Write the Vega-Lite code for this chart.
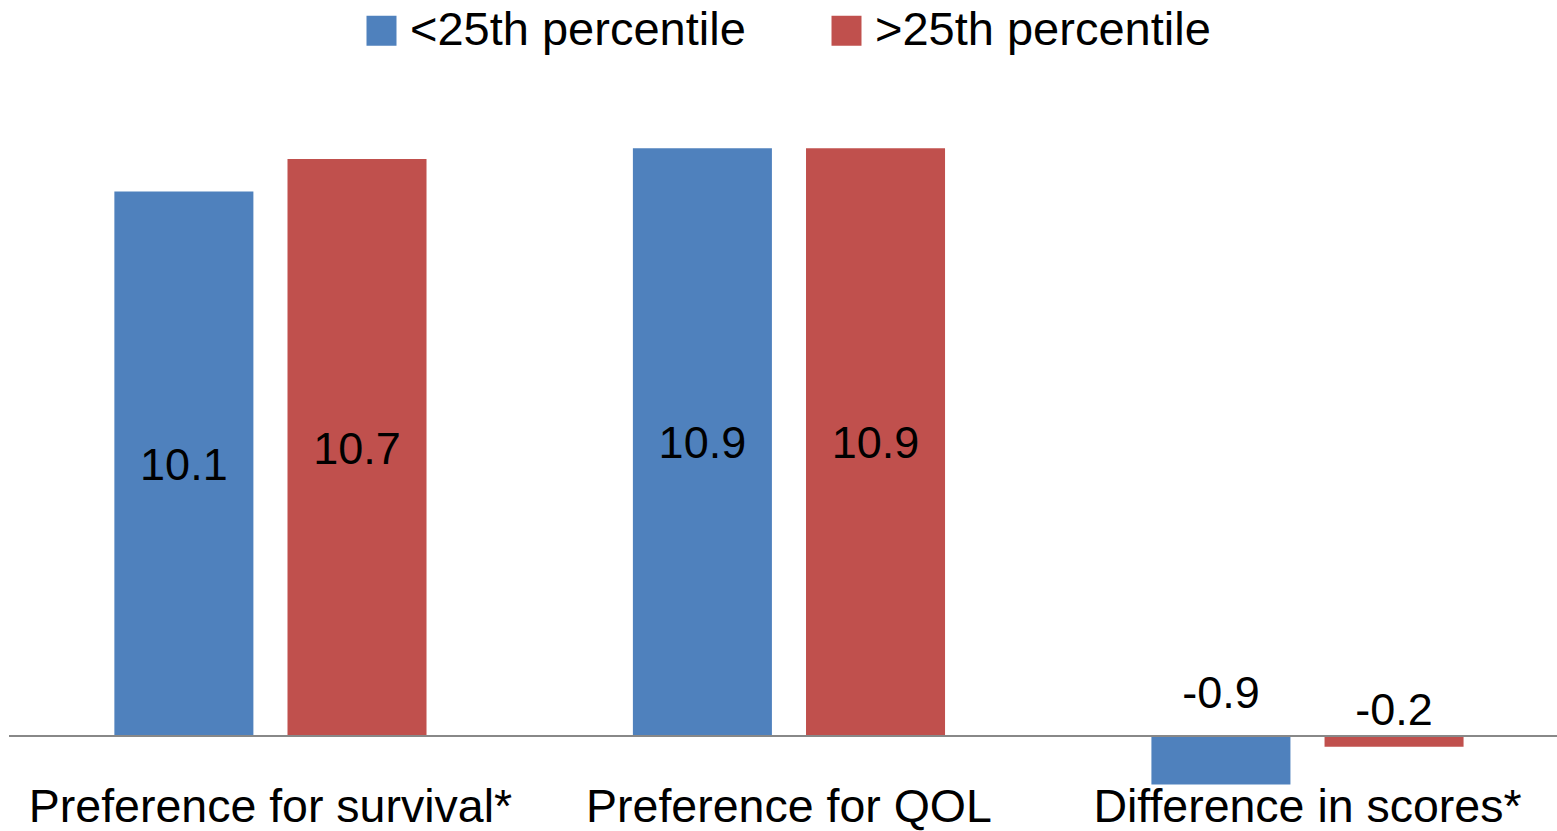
{
  "$schema": "https://vega.github.io/schema/vega-lite/v6.json",
  "width": 1548,
  "height": 701,
  "autosize": "none",
  "padding": {"left": 9, "top": 89, "right": 0, "bottom": 41},
  "background": "white",
  "config": {
    "view": {"stroke": null},
    "font": "Liberation Sans"
  },
  "data": {
    "values": [
      {"category": "Preference for survival*", "group": "<25th percentile", "value": 10.1},
      {"category": "Preference for survival*", "group": ">25th percentile", "value": 10.7},
      {"category": "Preference for QOL", "group": "<25th percentile", "value": 10.9},
      {"category": "Preference for QOL", "group": ">25th percentile", "value": 10.9},
      {"category": "Difference in scores*", "group": "<25th percentile", "value": -0.9},
      {"category": "Difference in scores*", "group": ">25th percentile", "value": -0.2}
    ]
  },
  "transform": [{"calculate": "datum.value / 2", "as": "mid"}],
  "encoding": {
    "x": {
      "field": "category",
      "type": "nominal",
      "sort": null,
      "scale": {"paddingInner": 0.398, "paddingOuter": 0.1917, "align": 0.53},
      "axis": {
        "title": null,
        "domain": false,
        "ticks": false,
        "labelAngle": 0,
        "labelFontSize": 46.5,
        "labelColor": "black",
        "labelBaseline": "alphabetic",
        "labelPadding": 31,
        "labelLimit": 600
      }
    },
    "xOffset": {
      "field": "group",
      "type": "nominal",
      "sort": ["<25th percentile", ">25th percentile"],
      "scale": {"paddingInner": 0.197, "paddingOuter": 0}
    }
  },
  "layer": [
    {
      "mark": {"type": "bar"},
      "encoding": {
        "y": {
          "field": "value",
          "type": "quantitative",
          "scale": {"domain": [-1, 12], "nice": false, "zero": true},
          "axis": null
        },
        "color": {
          "field": "group",
          "type": "nominal",
          "sort": ["<25th percentile", ">25th percentile"],
          "scale": {"domain": ["<25th percentile", ">25th percentile"], "range": ["#4F81BD", "#C0504D"]},
          "legend": {
            "title": null,
            "orient": "none",
            "direction": "horizontal",
            "legendX": 349,
            "legendY": -82,
            "symbolType": "square",
            "symbolSize": 900,
            "symbolStrokeWidth": 0,
            "symbolOpacity": 1,
            "labelFontSize": 47,
            "labelColor": "black",
            "labelOffset": 5,
            "labelLimit": 600,
            "columnPadding": 77
          }
        }
      }
    },
    {
      "mark": {"type": "rule", "color": "#888888", "strokeWidth": 2},
      "encoding": {"y": {"datum": 0, "type": "quantitative"}, "x": {"value": 0}, "x2": {"value": 1548}, "xOffset": {"value": 0}}
    },
    {
      "transform": [{"filter": "datum.value > 0"}],
      "mark": {"type": "text", "fontSize": 45, "color": "black", "baseline": "middle", "dy": 2},
      "encoding": {
        "y": {"field": "mid", "type": "quantitative"},
        "text": {"field": "value", "type": "nominal"}
      }
    },
    {
      "transform": [{"filter": "datum.value < 0 && datum.group == '<25th percentile'"}],
      "mark": {"type": "text", "fontSize": 45, "color": "black", "baseline": "middle", "dy": -42},
      "encoding": {
        "y": {"datum": 0, "type": "quantitative"},
        "text": {"field": "value", "type": "nominal"}
      }
    },
    {
      "transform": [{"filter": "datum.value < 0 && datum.group == '>25th percentile'"}],
      "mark": {"type": "text", "fontSize": 45, "color": "black", "baseline": "middle", "dy": -25},
      "encoding": {
        "y": {"datum": 0, "type": "quantitative"},
        "text": {"field": "value", "type": "nominal"}
      }
    }
  ]
}
